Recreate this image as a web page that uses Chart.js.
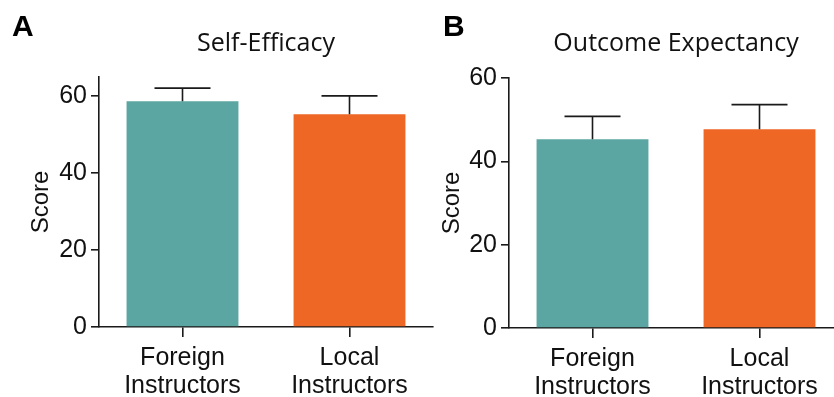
<!DOCTYPE html>
<html>
<head>
<meta charset="utf-8">
<script src="https://cdn.jsdelivr.net/npm/chart.js@4"></script>
<style>
  html, body { margin: 0; padding: 0; background: #fff; overflow: hidden; }
  #wrap { position: relative; width: 834px; height: 397px; overflow: hidden; }
  .panel { position: absolute; top: 0; height: 397px; }
</style>
</head>
<body>
<div id="wrap">
  <div class="panel" style="left:0;width:440px"><canvas id="chartA"></canvas></div>
  <div class="panel" style="left:420px;width:430px"><canvas id="chartB"></canvas></div>
</div>
<script>
// data
const categories = [['Foreign', 'Instructors'], ['Local', 'Instructors']];
const barColors = ['#5ba6a3', '#ee6724'];

const selfEfficacyMean = [58.7, 55.3];
const selfEfficacyErr = [3.4, 4.8];

const outcomeMean = [45.3, 47.7];
const outcomeErr = [5.5, 5.9];

const yTicks = [0, 20, 40, 60];

const tickFont = { family: "'Liberation Sans', Arial, sans-serif", size: 25 };
const titleFont = { family: "'Open Sans', sans-serif", size: 25, weight: 'normal' };

// draws the upper error whisker on each bar
const errorBars = {
    id: 'errorBars',
    afterDatasetsDraw(chart, args, opts) {
        const ctx = chart.ctx;
        const meta = chart.getDatasetMeta(0);
        const y = chart.scales.y;
        ctx.save();
        ctx.strokeStyle = '#1a1a1a';
        ctx.lineWidth = 1.6;
        meta.data.forEach((bar, i) => {
            const top = y.getPixelForValue(opts.mean[i] + opts.err[i]);
            ctx.beginPath();
            ctx.moveTo(bar.x, bar.y);
            ctx.lineTo(bar.x, top);
            ctx.moveTo(bar.x - 28, top);
            ctx.lineTo(bar.x + 28, top);
            ctx.stroke();
        });
        ctx.restore();
    }
};

// panel letter in the corner
const panelLetter = {
    id: 'panelLetter',
    afterDraw(chart, args, opts) {
        const ctx = chart.ctx;
        ctx.save();
        ctx.font = "bold 30px 'Liberation Sans', Arial, sans-serif";
        ctx.fillStyle = '#000';
        ctx.textBaseline = 'alphabetic';
        ctx.fillText(opts.text, opts.x, 36);
        ctx.restore();
    }
};

function makeChart(id, mean, err, title, letter, cfg) {
    const ctx = document.getElementById(id).getContext('2d');
    return new Chart(ctx, {
        type: 'bar',
        data: {
            labels: categories,
            datasets: [{
                data: mean,
                backgroundColor: barColors,
                categoryPercentage: 1,
                barPercentage: 0.67
            }]
        },
        options: {
            responsive: true,
            maintainAspectRatio: false,
            animation: false,
            layout: { padding: { left: 0, right: cfg.padRight, top: 0, bottom: 0 } },
            plugins: {
                legend: { display: false },
                tooltip: { enabled: false },
                title: {
                    display: true,
                    fullSize: false,
                    text: title,
                    color: '#111',
                    font: titleFont,
                    padding: { top: 29, bottom: cfg.titleBottom }
                },
                errorBars: { mean: mean, err: err },
                panelLetter: { text: letter, x: cfg.letterX }
            },
            scales: {
                x: {
                    grid: {
                        offset: false,
                        drawOnChartArea: false,
                        color: '#1a1a1a',
                        lineWidth: 1.6,
                        tickLength: 10
                    },
                    border: { display: true, color: '#1a1a1a', width: 1.6 },
                    ticks: { color: '#111', font: { ...tickFont, lineHeight: 1.12 }, padding: 7, maxRotation: 0 },
                    afterFit: s => { s.height = cfg.xHeight; }
                },
                y: {
                    min: 0,
                    max: cfg.yMax,
                    grid: {
                        drawOnChartArea: false,
                        color: '#1a1a1a',
                        lineWidth: 1.6,
                        tickLength: 8
                    },
                    border: { display: true, color: '#1a1a1a', width: 1.6 },
                    ticks: { stepSize: 20, color: '#111', font: tickFont, padding: 4 },
                    afterBuildTicks: s => { s.ticks = yTicks.map(v => ({ value: v })); },
                    title: {
                        display: true,
                        text: 'Score',
                        color: '#111',
                        font: { family: tickFont.family, size: 24 },
                        padding: { top: cfg.scoreTop, bottom: 0 }
                    },
                    afterFit: s => { s.width = cfg.yWidth; }
                }
            }
        },
        plugins: [errorBars, panelLetter]
    });
}

makeChart('chartA', selfEfficacyMean, selfEfficacyErr, 'Self-Efficacy', 'A',
    { yMax: 65, yWidth: 99, xHeight: 70, padRight: 7, titleBottom: 18, scoreTop: 27, letterX: 12 });
makeChart('chartB', outcomeMean, outcomeErr, 'Outcome Expectancy', 'B',
    { yMax: 60, yWidth: 89, xHeight: 69, padRight: 7, titleBottom: 19, scoreTop: 18, letterX: 23 });
</script>
</body>
</html>
